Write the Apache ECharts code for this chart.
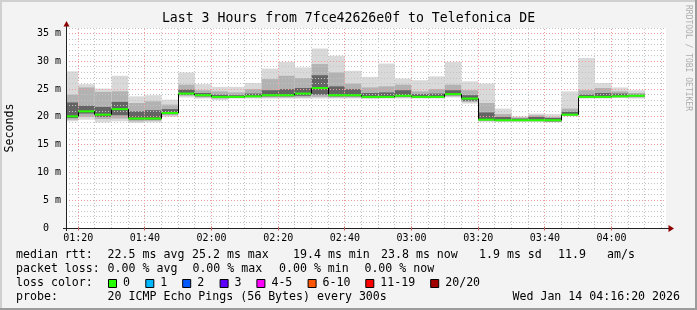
<!DOCTYPE html>
<html><head><meta charset="utf-8">
<script src="https://cdn.jsdelivr.net/npm/echarts@6/dist/echarts.min.js"></script>
<style>html,body{margin:0;padding:0;background:#f3f3f3}#c{width:697px;height:310px}</style>
</head><body><div id="c"></div>
<script>
// ---- data ----
const START = '01:16:20', END = '04:16:20';
const STEP = 5; // minutes per sample
const times = ['01:20','01:25','01:30','01:35','01:40','01:45','01:50','01:55',
  '02:00','02:05','02:10','02:15','02:20','02:25','02:30','02:35','02:40','02:45','02:50','02:55',
  '03:00','03:05','03:10','03:15','03:20','03:25','03:30','03:35','03:40','03:45','03:50','03:55',
  '04:00','04:05','04:10'];
const medians = [20.1,21.0,20.4,21.4,19.7,19.7,20.7,24.2,23.9,23.6,23.6,23.7,23.9,23.9,24.2,25.2,23.9,23.9,23.6,23.6,23.8,23.6,23.6,24.1,23.3,19.5,19.4,19.4,19.4,19.4,20.4,23.6,23.6,23.7,23.8];
const pingMax  = [28.2,25.9,25.1,27.4,23.7,23.9,23.1,28.0,25.9,25.4,25.4,26.1,28.7,29.9,28.9,32.3,31.0,28.3,27.2,29.6,26.9,26.6,27.3,29.9,26.4,26.0,21.5,20.1,20.6,20.5,24.6,30.6,26.1,25.3,24.8];
const pingHi   = [24.0,25.3,24.5,24.6,22.5,22.8,22.2,25.8,24.8,24.6,24.4,25.0,26.8,27.4,27.0,29.5,28.0,26.0,25.3,25.5,25.8,24.6,25.0,25.8,24.8,22.5,20.5,19.9,20.3,20.0,21.5,24.8,25.2,24.6,24.3];
const pingCoreHi=[22.6,22.0,21.8,22.7,21.0,21.2,21.4,24.9,24.3,24.0,23.9,24.2,24.8,25.0,25.2,27.5,25.5,25.0,24.3,24.4,24.8,24.1,24.2,24.8,23.9,20.8,20.0,19.7,20.0,19.8,20.9,24.0,24.3,24.2,24.0];
const pingCoreLo=[19.8,20.6,20.0,20.3,19.5,19.5,20.5,24.0,23.7,23.5,23.5,23.6,23.7,23.7,23.8,24.0,23.7,23.7,23.5,23.5,23.6,23.5,23.5,23.9,22.9,19.4,19.3,19.3,19.3,19.2,20.3,23.5,23.5,23.6,23.7];
const pingLo   = [19.5,20.0,19.6,19.7,19.2,19.3,20.3,23.8,23.5,23.3,23.4,23.5,23.5,23.5,23.5,23.6,23.5,23.5,23.4,23.4,23.5,23.4,23.4,23.7,22.7,19.3,19.2,19.2,19.2,19.1,20.2,23.4,23.4,23.5,23.5];
const pingMin  = [19.2,19.5,19.0,19.2,18.9,19.0,20.0,23.5,23.3,23.0,23.3,23.3,23.3,23.3,23.3,23.3,23.3,23.3,23.2,23.3,23.3,23.3,23.3,23.5,22.4,19.1,19.1,19.1,19.1,19.0,20.1,23.3,23.3,23.4,23.3];
const xTickLabels = ['01:20','01:40','02:00','02:20','02:40','03:00','03:20','03:40','04:00'];
const yTicks = [0,5,10,15,20,25,30,35];
const Y_MAX = 36;
const titleText = 'Last 3 Hours from 7fce42626e0f to Telefonica DE';
const rttLine = [['median rtt:',16],['22.5 ms avg',107.6],['25.2 ms max',192],['19.4 ms min',293],['23.8 ms now',381],['1.9 ms sd',479],['11.9',558],['am/s',607]];
const lossLine = [['packet loss:',16],['0.00 % avg',107.6],['0.00 % max',192.4],['0.00 % min',279],['0.00 % now',364.4]];
const lossLabels = ['0','1','2','3','4-5','6-10','11-19','20/20'];
const lossColors = ['#26ff00','#00b8ff','#0059ff','#5e00ff','#ff00ff','#ff5500','#ff0000','#a10000'];
const lossBoxX = [108,145.3,182.2,219.6,256.4,307.6,365.3,430.2];
const probeText = '20 ICMP Echo Pings (56 Bytes) every 300s';
const dateText = 'Wed Jan 14 04:16:20 2026';

// ---- build ----
const MONO = '"DejaVu Sans Mono", monospace';
function toMin(s){const p=s.split(':').map(Number);return p[0]*60+p[1]+(p[2]||0)/60;}
function fmt(v){const h=Math.floor(v/60+1e-6),m=Math.round(v-h*60);return String(h).padStart(2,'0')+':'+String(m).padStart(2,'0');}
const xMin = toMin(START), xMax = toMin(END);
const tEnd = times.map(toMin);
const data = tEnd.map((t,i)=>[t,pingMin[i],pingLo[i],pingCoreLo[i],medians[i],pingCoreHi[i],pingHi[i],pingMax[i]]);
const xTickVals = xTickLabels.map(toMin);

const vGrid=[]; for(let v=Math.ceil(xMin/5)*5; v<=xMax; v+=5){vGrid.push([v, v%20===0?1:0]);}
const hGrid=[]; for(let v=1; v<=Y_MAX; v+=1){hGrid.push([v, v%5===0?1:0]);}
const cr = v => Math.round(v-0.5)+0.5;

const smokeBands=[[1,7,'#d9d9d9'],[2,6,'#b2b2b2'],[3,5,'#646464']];
const option = {
  animation:false,
  backgroundColor:'#f3f3f3',
  grid:{left:66,right:31,top:28,bottom:82,show:true,backgroundColor:'#ffffff',borderWidth:0,containLabel:false,outerBoundsMode:'none'},
  xAxis:{type:'value',min:xMin,max:xMax,axisLine:{show:false},axisTick:{show:false},splitLine:{show:false},
    axisLabel:{customValues:xTickVals,formatter:v=>fmt(v),fontFamily:MONO,fontSize:10,color:'#000',margin:5}},
  yAxis:{type:'value',min:0,max:Y_MAX,interval:5,axisLine:{show:false},axisTick:{show:false},splitLine:{show:false},
    axisLabel:{customValues:yTicks,formatter:v=>v===0?'0  ':v+' m',fontFamily:MONO,fontSize:10,color:'#000',margin:5}},
  series:[
    {type:'custom',z:2,data:data,encode:{x:0,y:[1,7]},renderItem:function(params,api){
      const t1=api.value(0), t0=Math.max(t1-STEP,xMin);
      return {type:'group',children:smokeBands.map(([a,b,c])=>{
        const p0=api.coord([t0,api.value(b)]), p1=api.coord([t1,api.value(a)]);
        return {type:'rect',shape:{x:p0[0],y:p0[1],width:p1[0]-p0[0],height:p1[1]-p0[1]},style:{fill:c}};
      })};
    }},
    {type:'custom',z:3,silent:true,data:vGrid,encode:{x:0},renderItem:function(params,api){
      const v=api.value(0), a=api.coord([v,0]), b=api.coord([v,Y_MAX]);
      const x=cr(a[0]);
      return {type:'line',shape:{x1:x,y1:a[1],x2:x,y2:b[1]},style:{stroke:api.value(1)?'#f19a9a':'#c4c4c4',lineWidth:1,lineDash:[1,2]}};
    }},
    {type:'custom',z:3,silent:true,data:hGrid,encode:{y:0},renderItem:function(params,api){
      const v=api.value(0), a=api.coord([xMin,v]), b=api.coord([xMax,v]);
      const y=cr(a[1]);
      return {type:'line',shape:{x1:a[0],y1:y,x2:b[0],y2:y},style:{stroke:api.value(1)?'#f19a9a':'#c4c4c4',lineWidth:1,lineDash:[1,2]}};
    }},
    {type:'custom',z:4,data:data,encode:{x:0,y:4},renderItem:function(params,api){
      const i=params.dataIndex;
      const t1=api.value(0), t0=Math.max(t1-STEP,xMin), m=api.value(4);
      const a=api.coord([t0,m]), b=api.coord([t1,m]);
      const ch=[];
      if(i>0){const c=api.coord([t0,medians[i-1]]);const x=cr(a[0]);
        ch.push({type:'line',shape:{x1:x,y1:c[1],x2:x,y2:a[1]},style:{stroke:'#000',lineWidth:1}});}
      ch.push({type:'line',shape:{x1:a[0],y1:a[1],x2:b[0],y2:b[1]},style:{stroke:lossColors[0],lineWidth:2}});
      return {type:'group',children:ch};
    }}
  ]
};
const chart = echarts.init(document.getElementById('c'),null,{renderer:'canvas',width:697,height:310});
chart.setOption(option);

const o = chart.convertToPixel({gridIndex:0},[xMin,0]);
const tr = chart.convertToPixel({gridIndex:0},[xMax,Y_MAX]);
const ox=cr(o[0]), oy=cr(o[1]);
const G=[];
// frame
G.push({type:'rect',shape:{x:0,y:0,width:697,height:2},style:{fill:'#d0d0d0'},z:20});
G.push({type:'rect',shape:{x:0,y:0,width:2,height:310},style:{fill:'#d0d0d0'},z:20});
G.push({type:'rect',shape:{x:695,y:0,width:2,height:310},style:{fill:'#9c9c9c'},z:20});
G.push({type:'rect',shape:{x:0,y:308,width:697,height:2},style:{fill:'#9c9c9c'},z:20});
// axes
G.push({type:'line',shape:{x1:o[0]-3,y1:oy,x2:tr[0]+3,y2:oy},style:{stroke:'#222',lineWidth:1},z:10});
G.push({type:'line',shape:{x1:ox,y1:o[1]+3,x2:ox,y2:tr[1]-2},style:{stroke:'#222',lineWidth:1},z:10});
G.push({type:'polygon',shape:{points:[[tr[0]+2.5,oy-3.5],[tr[0]+8,oy],[tr[0]+2.5,oy+3.5]]},style:{fill:'#8b0000'},z:11});
G.push({type:'polygon',shape:{points:[[ox-3,tr[1]-1.5],[ox,tr[1]-7],[ox+3,tr[1]-1.5]]},style:{fill:'#8b0000'},z:11});
// ticks on x axis
xTickVals.forEach(v=>{const p=chart.convertToPixel({gridIndex:0},[v,0]);const x=cr(p[0]);
  G.push({type:'line',shape:{x1:x,y1:oy-2,x2:x,y2:oy+2},style:{stroke:'#c06060',lineWidth:1},z:10});});
// texts
function T(text,x,y,size,align){return {type:'text',z:20,style:{text:text,x:x,y:y,font:size+'px '+MONO,fill:'#000',textAlign:align||'left',textVerticalAlign:'middle',verticalAlign:'middle'}};}
G.push(T(titleText,348.5,18.5,13.2,'center'));
G.push({type:'text',z:20,x:10,y:128,rotation:Math.PI/2,style:{text:'Seconds',x:0,y:0,font:'11.6px '+MONO,fill:'#000',textAlign:'center',textVerticalAlign:'middle',verticalAlign:'middle'}});
G.push({type:'text',z:20,x:688,y:5,rotation:-Math.PI/2,style:{text:'RRDTOOL / TOBI OETIKER',x:0,y:0,font:'8px '+MONO,fill:'#adadad',textAlign:'left',textVerticalAlign:'middle',verticalAlign:'middle'}});
rttLine.forEach(([t,x])=>G.push(T(t,x,255,11.6)));
lossLine.forEach(([t,x])=>G.push(T(t,x,269,11.6)));
G.push(T('loss color:',16,283,11.6));
lossLabels.forEach((l,i)=>{
  G.push({type:'rect',z:20,shape:{x:lossBoxX[i]+0.5,y:279.5,width:8,height:8},style:{fill:lossColors[i],stroke:'#000',lineWidth:1}});
  G.push(T(l,lossBoxX[i]+15,283,11.6));
});
G.push(T('probe:',16,297,11.6));
G.push(T(probeText,107.6,297,11.6));
G.push(T(dateText,680,297,11.6,'right'));
chart.setOption({graphic:G});
</script></body></html>
